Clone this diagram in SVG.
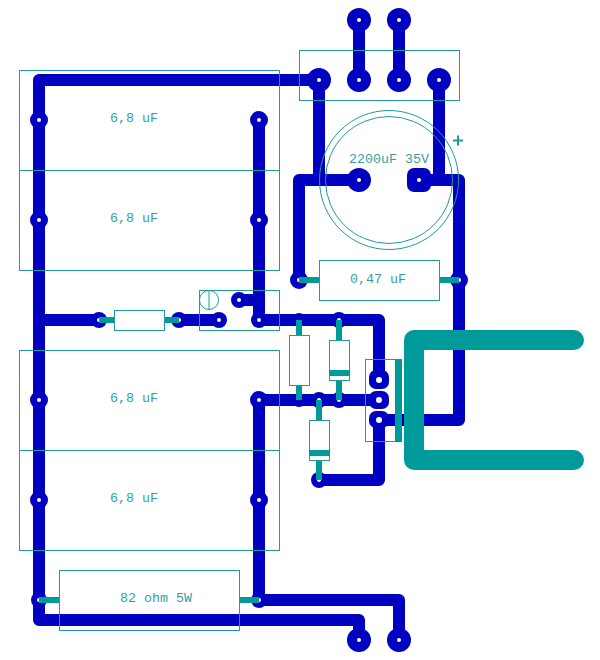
<svg xmlns="http://www.w3.org/2000/svg" width="600" height="660" viewBox="0 0 600 660">
<style>
.tr{fill:none;stroke:#0000c0;stroke-width:12;stroke-linejoin:round;stroke-linecap:round}
.pad{fill:#0000c0}
.hole{fill:#fff}
.box{fill:none;stroke:#209a9a;stroke-width:1}
.bodyw{fill:#fff;stroke:#209a9a;stroke-width:1}
.lead{fill:none;stroke:#009a9a;stroke-width:6}
.band{fill:#009a9a}
text{font-family:"Liberation Mono","DejaVu Sans Mono",monospace;font-size:13.33px;fill:#359f9f;text-anchor:middle}
</style>
<defs>
<g id="p"><circle r="12" class="pad"/><circle r="2" class="hole"/></g>
<g id="s"><circle r="9" class="pad"/><circle r="2" class="hole"/></g>
<g id="t"><circle r="8" class="pad"/><circle r="2" class="hole"/></g>
</defs>
<rect width="600" height="660" fill="#fff"/>
<g id="connectors">
<path class="tr" d="M359 20V80M399 20V80"/>
<path class="tr" d="M319 80H39V620H359V640"/>
<path class="tr" d="M319 80V180M359 180H299V280"/>
<path class="tr" d="M439 80V180M419 180H459V420H379"/>
<path class="tr" d="M39 320H99M179 320H219M259 120V320H379V380"/>
<path class="tr" d="M239 300H259"/>
<path class="tr" d="M379 420V480H319"/>
<path class="tr" d="M259 400V600H399V640M259 400H379"/>
</g>
<g id="pads">
<use href="#p" x="359" y="20"/><use href="#p" x="399" y="20"/>
<use href="#p" x="319" y="80"/><use href="#p" x="359" y="80"/><use href="#p" x="399" y="80"/><use href="#p" x="439" y="80"/>
<use href="#p" x="359" y="180"/><rect x="407" y="168" width="24" height="24" rx="7" class="pad"/><circle cx="419" cy="180" r="2" class="hole"/>
<use href="#s" x="39" y="120"/><use href="#s" x="39" y="220"/><use href="#s" x="259" y="120"/><use href="#s" x="259" y="220"/>
<use href="#s" x="39" y="400"/><use href="#s" x="39" y="500"/><use href="#s" x="259" y="400"/><use href="#s" x="259" y="500"/>
<use href="#s" x="299" y="280"/><use href="#s" x="459" y="280"/>
<use href="#t" x="239" y="300"/><use href="#t" x="219" y="320"/><use href="#t" x="259" y="320"/>
<use href="#t" x="99" y="320"/><use href="#t" x="179" y="320"/>
<use href="#t" x="339" y="320"/><use href="#t" x="339" y="400"/><use href="#t" x="319" y="400"/><use href="#t" x="319" y="480"/>
<circle cx="299" cy="320" r="7" class="pad"/><circle cx="299" cy="400" r="7" class="pad"/>
<use href="#t" x="39" y="600"/><use href="#t" x="259" y="600"/>
<use href="#p" x="359" y="640"/><use href="#p" x="399" y="640"/>
</g>
<g id="heatsink"><path d="M574 340H414V460H574" fill="none" stroke="#009a9a" stroke-width="20" stroke-linejoin="round" stroke-linecap="round"/></g>
<g id="connector-block"><rect class="box" x="299.500" y="50.500" width="160" height="50"/></g>
<g id="c1"><rect class="box" x="19.500" y="70.500" width="260" height="100"/><text x="134" y="122">6,8 uF</text></g>
<g id="c2"><rect class="box" x="19.500" y="170.500" width="260" height="100"/><text x="134" y="222">6,8 uF</text></g>
<g id="c3"><rect class="box" x="19.500" y="350.500" width="260" height="100"/><text x="134" y="402">6,8 uF</text></g>
<g id="c4"><rect class="box" x="19.500" y="450.500" width="260" height="100"/><text x="134" y="502">6,8 uF</text></g>
<g id="c5"><circle class="box" cx="389" cy="180" r="69.500"/><circle class="box" cx="389" cy="180" r="63.500"/><text x="389" y="163">2200uF 35V</text><path d="M453 140.500H463M458 135.500V145.500" stroke="#209a9a" stroke-width="2"/></g>
<g id="c6"><path class="lead" d="M299 280H319M439 280H459"/><rect class="box" x="319.500" y="260.500" width="120" height="40"/><text x="378" y="283">0,47 uF</text></g>
<g id="r1"><path class="lead" d="M99 320H114M164 320H179"/><rect class="box" x="114.500" y="310.500" width="50" height="20"/></g>
<g id="r2"><path class="lead" d="M39 600H59M239 600H259"/><rect class="box" x="59.500" y="570.500" width="180" height="60"/><text x="156" y="602">82 ohm 5W</text></g>
<g id="trim"><rect class="box" x="199.500" y="290.500" width="80" height="40"/><circle class="box" cx="209" cy="300" r="9.500"/><path class="box" d="M209 290.500V310"/></g>
<g id="r3"><path class="lead" d="M299 320V335M299 385V400"/><rect class="bodyw" x="289.500" y="335.500" width="20" height="50"/></g>
<g id="d1"><path class="lead" d="M339 320V340M339 380V400"/><rect class="bodyw" x="329.500" y="340.500" width="20" height="40"/><rect class="band" x="329" y="370" width="21" height="6"/></g>
<g id="d2"><path class="lead" d="M319 400V420M319 460V480"/><rect class="bodyw" x="309.500" y="420.500" width="20" height="40"/><rect class="band" x="309" y="450" width="21" height="6"/></g>
<g id="q1">
<rect x="369" y="370" width="20" height="19" rx="7" class="pad"/><rect x="369" y="391" width="20" height="18" rx="7" class="pad"/><rect x="369" y="411" width="20" height="17" rx="7" class="pad"/>
<circle cx="379" cy="380" r="3" class="hole"/><circle cx="379" cy="400" r="3" class="hole"/><circle cx="379" cy="420" r="3" class="hole"/>
<rect class="box" x="365.500" y="359.500" width="36" height="82"/><rect class="band" x="395" y="359" width="7" height="83"/>
</g>
</svg>
